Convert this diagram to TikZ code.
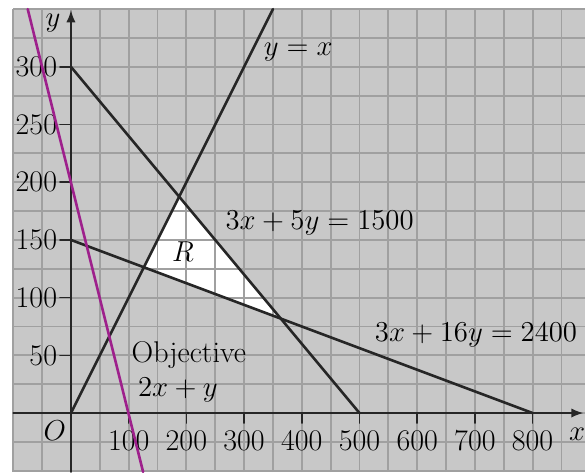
\documentclass[tikz,border=0pt]{standalone}
\usetikzlibrary{arrows.meta}

\definecolor{paper}{RGB}{200,200,200}
\definecolor{rulegrey}{RGB}{160,160,160}
\definecolor{objpurple}{RGB}{158,32,140}

\begin{document}
\begin{tikzpicture}[x=0.2885pt, y=0.577pt, line cap=round, line join=round,
    constraint/.style={line width=1.3pt, black!85},
    axisline/.style={line width=0.8pt, black!85},
    gridline/.style={line width=0.9pt, rulegrey, line cap=butt},
    lbl/.style={font=\fontsize{15}{17}\selectfont, inner sep=1pt}]
  \useasboundingbox (-123,-51.1) rectangle (890.8,357.9);
  % Grey graph paper.
  \fill[paper] (-100,-51.1) rectangle (890.8,350);
  % Corners of the feasible region R.
  \coordinate (RA) at (126.32,126.32);
  \coordinate (RB) at (187.5,187.5);
  \coordinate (RC) at (363.64,81.82);
  \fill[white] (RA) -- (RB) -- (RC) -- cycle;
  % Grid.
  \foreach \gx in {-100,-50,...,850}
    \draw[gridline] (\gx,-51.1) -- (\gx,350);
  \foreach \gy in {-50,-25,...,350}
    \draw[gridline] (-100,\gy) -- (890.8,\gy);
  % Axes with ticks.
  \coordinate (O) at (0,0);
  \draw[axisline,-{Latex[length=6pt,width=4.6pt]}] (-100,0) -- (888,0);
  \draw[axisline,-{Latex[length=6pt,width=4.6pt]}] (0,-51.1) -- (0,349);
  \foreach \ty in {50,100,...,300} {
    \draw[axisline] (-19,\ty) -- (0,\ty);
    \node[lbl, anchor=east] (ylab\ty) at (-20,\ty) {\ty};
  }
  \foreach \tx in {100,200,...,800} {
    \draw[axisline] (\tx,0) -- (\tx,-8.7);
    \node[lbl] (xlab\tx) at (\tx,-24) {\tx};
  }
  \node[lbl] (olab) at (-28,-15) {$O$};
  \node[lbl] (ylab) at (-31,338) {$y$};
  \node[lbl] (xlab) at (877,-18) {$x$};
  % Constraint lines.
  \coordinate (P300) at (0,300);
  \coordinate (P150) at (0,150);
  \coordinate (Q500) at (500,0);
  \coordinate (Q800) at (800,0);
  \coordinate (Dtop) at (350,350);
  \draw[constraint] (O) -- (Dtop);
  \draw[constraint] (P300) -- (Q500);
  \draw[constraint] (P150) -- (Q800);
  % Objective line 2x + y = 200.
  \coordinate (Ttop) at (-75,350);
  \coordinate (Tbot) at (125,-51.1);
  \draw[line width=1.3pt, objpurple] (Ttop) -- (Tbot);
  % Labels.
  \node[lbl] (diag) at (394,313) {$y = x$};
  \node[lbl] (c1) at (431,164.6) {$3x + 5y = 1500$};
  \node[lbl] (c2) at (702,67.6) {$3x + 16y = 2400$};
  \node[lbl] (reg) at (194,139.5) {$R$};
  \node[lbl, anchor=west] (obj) at (101,50.3) {Objective};
  \node[lbl, anchor=west] (objf) at (112,20) {$2x + y$};
\end{tikzpicture}
\end{document}
